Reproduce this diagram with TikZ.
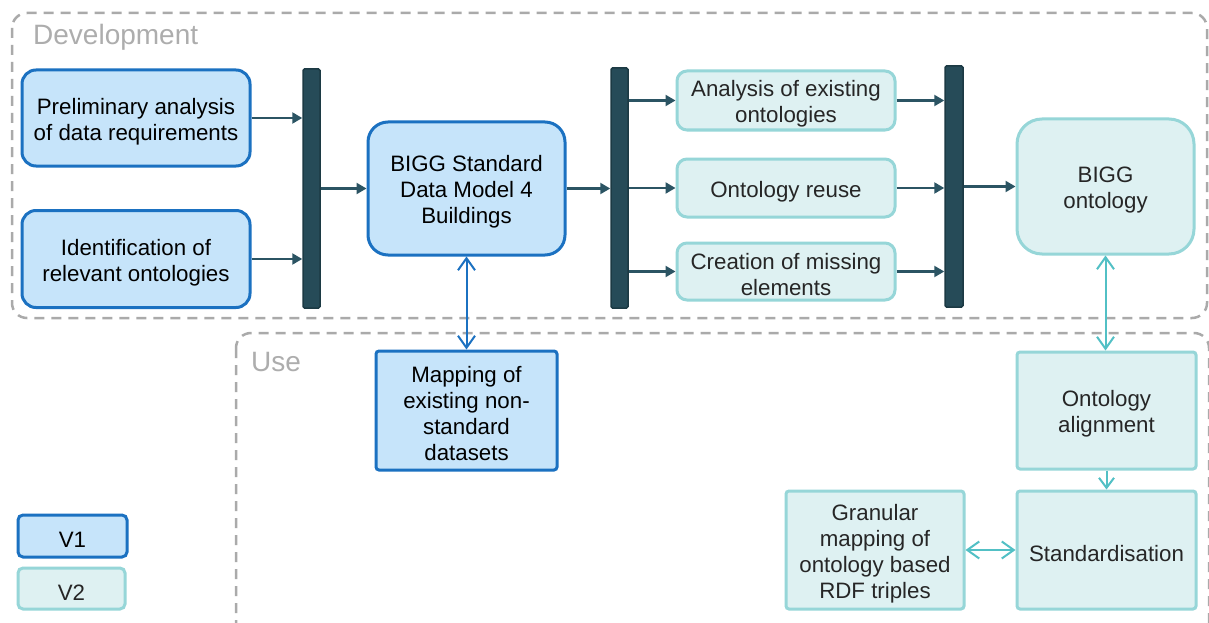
\documentclass[tikz,border=0pt]{standalone}
\usepackage{fontspec}
\setmainfont{Liberation Sans}
\usetikzlibrary{arrows.meta}
\definecolor{vonefill}{HTML}{C6E4FA}
\definecolor{voneline}{HTML}{1B71C1}
\definecolor{vtwofill}{HTML}{DEF1F2}
\definecolor{vtwoline}{HTML}{96D6D8}
\definecolor{barfill}{HTML}{264B58}
\definecolor{barline}{HTML}{1C3A44}
\definecolor{darrow}{HTML}{2B5463}
\definecolor{tealarrow}{HTML}{52C0C5}
\definecolor{grayline}{HTML}{AAAAAA}
\definecolor{graytext}{HTML}{ADADAD}
\definecolor{darktext}{HTML}{262626}
\newcommand\diafont{\fontsize{22.3}{26}\selectfont}
\newcommand\tup{\rule{0pt}{23pt}}
\begin{document}
\begin{tikzpicture}[x=1pt,y=-1pt,
  vone/.style={draw=voneline, fill=vonefill, line width=3pt, rounded corners=14pt,
    align=center, inner sep=0pt, text=black, font=\diafont},
  vtwo/.style={draw=vtwoline, fill=vtwofill, line width=3pt, rounded corners=10pt,
    align=center, inner sep=0pt, text=darktext, font=\diafont},
  barbox/.style={draw=barline, fill=barfill, line width=1.5pt, rounded corners=1.5pt,
    inner sep=0pt, minimum width=17pt},
  darr/.style={draw=darrow, line width=2.2pt, -{Triangle[length=10pt,width=11pt]}},
  bluearr/.style={draw=voneline, line width=2pt, {Straight Barb[length=12pt,width=17pt]}-{Straight Barb[length=12pt,width=17pt]}},
  tealarr/.style={draw=tealarrow, line width=2pt},
  grpbox/.style={draw=grayline, line width=2.5pt, dash pattern=on 10pt off 7pt, rounded corners=15pt},
  grplabel/.style={text=graytext, font=\fontsize{28}{32}\selectfont, inner sep=0pt, anchor=base west}
]
\clip (0,0) rectangle (1209,623);
\fill[white] (0,0) rectangle (1209,623);

% group boxes
\draw[grpbox] (12,13) rectangle (1207,318);
\draw[grpbox] (236,333) rectangle (1209,660);
\node[grplabel] (devlab) at (33,45) {Development};
\node[grplabel] (uselab) at (251,371) {Use};

% V1 nodes
\node[vone, minimum width=228pt, minimum height=96pt] (prelim) at (136,118)
  {\tup Preliminary analysis\\of data requirements};
\node[vone, minimum width=228pt, minimum height=97pt] (ident) at (136,259)
  {\tup Identification of\\relevant ontologies};
\node[vone, rounded corners=20pt, minimum width=197pt, minimum height=133pt] (bigg) at (466.5,188.5)
  {\tup BIGG Standard\\Data Model 4\\Buildings};
\node[vone, rounded corners=3pt, minimum width=181pt, minimum height=119pt] (map) at (466.5,410.5)
  {\tup Mapping of\\existing non-\\standard\\datasets};

% bars
\node[barbox, minimum height=239pt] (bar1) at (311.5,188.5) {};
\node[barbox, minimum height=240pt] (bar2) at (619.5,188) {};
\node[barbox, minimum width=18pt, minimum height=241pt] (bar3) at (954,186.5) {};

% V2 nodes
\node[vtwo, minimum width=218pt, minimum height=59pt] (ana) at (786,100.5)
  {\tup Analysis of existing\\ontologies};
\node[vtwo, minimum width=218pt, minimum height=58pt] (reuse) at (786,188)
  {\tup Ontology reuse};
\node[vtwo, minimum width=218pt, minimum height=57pt] (creat) at (786,271.5)
  {\tup Creation of missing\\elements};
\node[vtwo, rounded corners=25pt, minimum width=177pt, minimum height=135pt] (onto) at (1105.5,186.5)
  {\tup BIGG\\ontology};
\node[vtwo, rounded corners=3pt, minimum width=179pt, minimum height=117pt] (align) at (1106.5,410.5)
  {\tup Ontology\\alignment};
\node[vtwo, rounded corners=3pt, minimum width=179pt, minimum height=118pt] (std) at (1106.5,550)
  {\tup Standardisation};
\node[vtwo, rounded corners=3pt, minimum width=178pt, minimum height=118pt] (gran) at (875,550)
  {\tup Granular\\mapping of\\ontology based\\RDF triples};

% legend
\node[vone, rounded corners=5pt, minimum width=109pt, minimum height=42pt] (legone) at (72.5,536) {\tup V1};
\node[vtwo, rounded corners=5pt, minimum width=107pt, minimum height=41pt] (legtwo) at (71.5,588.5) {\tup V2};

% dark arrows
\draw[darr] (prelim.east) -- (prelim.east -| bar1.west);
\draw[darr] (ident.east) -- (ident.east -| bar1.west);
\draw[darr] (bar1.east |- bigg.west) -- (bigg.west);
\draw[darr] (bigg.east) -- (bigg.east -| bar2.west);
\draw[darr] (bar2.east |- ana.west) -- (ana.west);
\draw[darr] (bar2.east |- reuse.west) -- (reuse.west);
\draw[darr] (bar2.east |- creat.west) -- (creat.west);
\draw[darr] (ana.east) -- (ana.east -| bar3.west);
\draw[darr] (reuse.east) -- (reuse.east -| bar3.west);
\draw[darr] (creat.east) -- (creat.east -| bar3.west);
\draw[darr] (bar3.east |- onto.west) -- (onto.west);

% open arrows
\draw[bluearr] (bigg.south) -- (map.north);
\draw[tealarr, {Straight Barb[length=12pt,width=17pt]}-{Straight Barb[length=12pt,width=17pt]}]
  (onto.south) -- (onto.south |- align.north);
\draw[tealarr, -{Straight Barb[length=10pt,width=15pt]}] (align.south) -- (std.north);
\draw[tealarr, {Straight Barb[length=12pt,width=17pt]}-{Straight Barb[length=12pt,width=17pt]}]
  (gran.east) -- (std.west);
\end{tikzpicture}
\end{document}
